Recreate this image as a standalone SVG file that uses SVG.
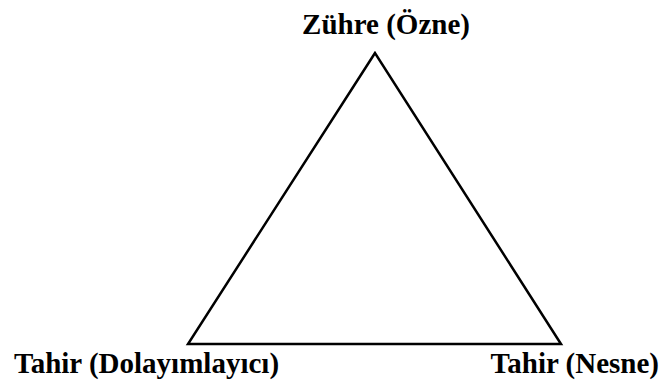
<svg xmlns="http://www.w3.org/2000/svg" width="665" height="387" viewBox="0 0 665 387">
<style>
.lbl{font-family:"Liberation Serif","Times New Roman",serif;font-weight:bold;font-size:29px;fill:#000}
.edge{fill:none;stroke:#000;stroke-width:2.5;stroke-linejoin:miter}
</style>
<rect width="665" height="387" fill="#fff"/>
<g id="connectors">
<polygon class="edge" points="375,53 188,344 561,344"/>
</g>
<g id="node-zuhre"><text class="lbl" x="386" y="34" text-anchor="middle">Zühre (Özne)</text></g>
<g id="node-dolayimlayici"><text class="lbl" x="14" y="373">Tahir (Dolayımlayıcı)</text></g>
<g id="node-nesne"><text class="lbl" x="659" y="373" text-anchor="end">Tahir (Nesne)</text></g>
</svg>
